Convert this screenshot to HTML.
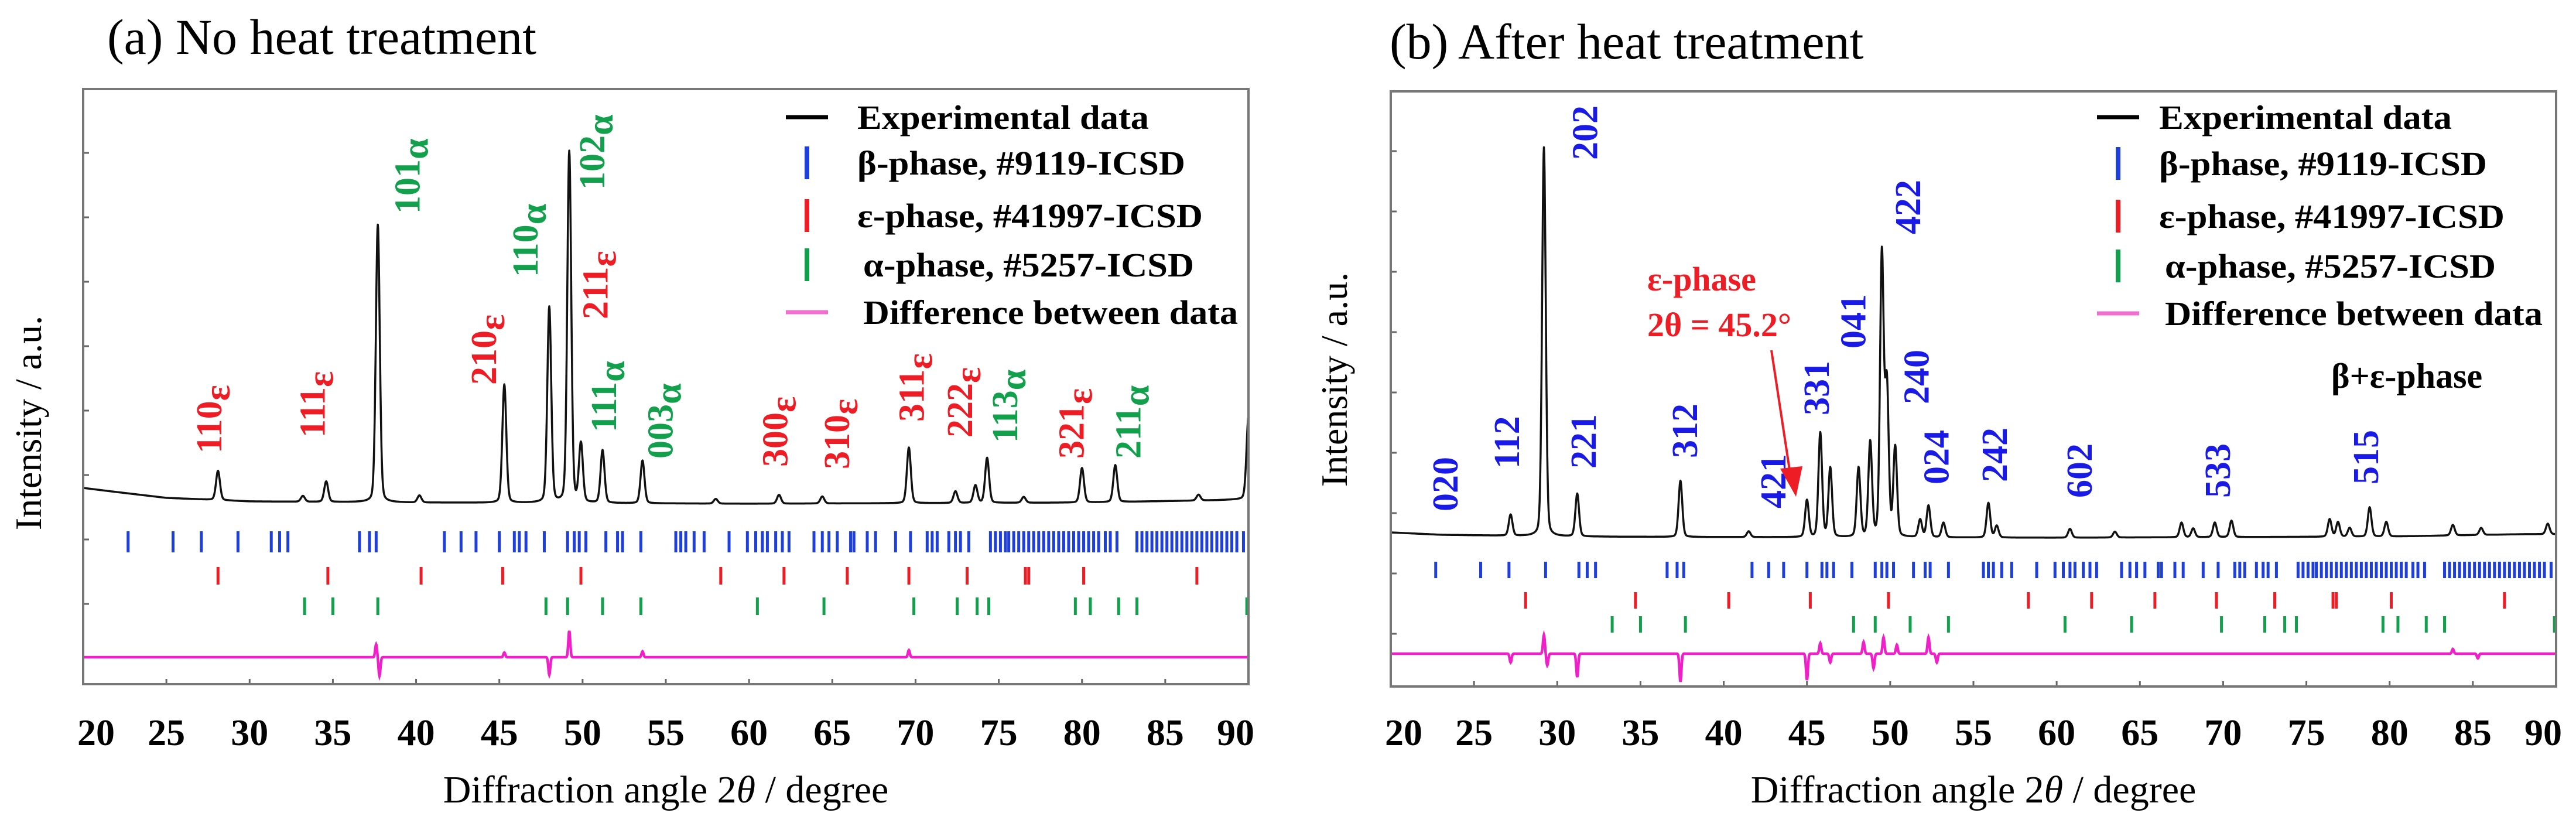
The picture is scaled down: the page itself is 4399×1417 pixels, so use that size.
<!DOCTYPE html>
<html><head><meta charset="utf-8"><style>
html,body{margin:0;padding:0;background:#fff}
svg{display:block}
text{font-family:"Liberation Serif",serif}
</style></head><body>
<svg id="chart" width="4399" height="1417" viewBox="0 0 4399 1417" xmlns="http://www.w3.org/2000/svg">
<text x="183" y="92" font-size="86">(a) No heat treatment</text>
<text x="2373" y="100" font-size="86">(b) After heat treatment</text>
</svg>
<script>
// ---------- data ----------
const xTicks = [20,25,30,35,40,45,50,55,60,65,70,75,80,85,90];
// background (deg, intensity)
const bgA = [[20,27],[22,20],[25,10],[30,4],[40,2],[60,0],[80,2],[88,6],[90,8]];
const bgB = [[20,9],[23,5],[30,2],[40,1],[60,0],[80,2],[88,6],[90,6]];
// peaks: position (deg), height
const peaksAPos = [28.1,33.2,34.6,37.7,40.2,45.3,48.0,49.2,49.9,51.2,53.6,58.0,61.8,64.4,69.6,72.4,73.6,74.3,76.5,80.0,82.0,87.0,90.0];
const peaksAHgt = [50,10,35,474,12,202,334,600,100,90,73,8,15,12,95,20,30,77,10,59,63,10,140];
const peaksBPos = [27.2,29.2,31.2,37.4,41.5,45.0,45.8,46.4,48.1,48.8,49.5,49.8,50.3,51.8,52.3,53.2,55.9,56.4,60.8,63.5,67.5,68.2,69.5,70.5,76.4,76.9,77.6,78.8,79.8,83.8,85.5,89.5];
const peaksBHgt = [36,664,73,96,10,63,178,118,118,161,481,255,152,30,54,25,59,20,15,10,25,15,25,28,30,25,15,50,25,18,12,18];
// difference curve features
const diffAPos = [37.6,37.8,48.0,49.2,53.6,69.6,45.3];
const diffAAmp = [22,-32,-30,45,10,12,8];
const diffBPos = [27.2,29.2,29.4,31.2,37.4,45.0,45.8,46.4,48.4,49.0,49.6,50.4,52.3,52.8,83.8,85.3];
const diffBAmp = [-15,32,-20,-40,-48,-45,18,-15,20,-25,28,15,28,-15,8,-8];
// reference reflections (deg)
const betaTicks = [22.7,25.4,27.1,29.3,31.3,31.8,32.3,36.6,37.2,37.6,41.7,42.7,43.6,45.0,45.9,46.2,46.6,47.7,49.1,49.5,49.8,50.2,51.4,52.1,52.4,53.5,55.6,55.9,56.2,56.7,57.3,58.8,59.9,60.4,60.8,61.1,61.6,62.0,62.4,63.9,64.4,64.8,65.3,66.1,66.3,67.1,67.6,68.8,69.7,70.7,71.0,71.3,72.0,72.4,72.7,73.2,74.5,74.8,75.1,75.4,75.6,75.9,76.2,76.5,76.8,77.1,77.4,77.7,78.0,78.3,78.6,78.9,79.2,79.5,79.8,80.1,80.4,80.7,81.0,81.4,81.7,82.1,83.3,83.6,83.9,84.2,84.5,84.8,85.1,85.4,85.7,86.0,86.3,86.6,86.9,87.2,87.5,87.8,88.1,88.4,88.7,89.0,89.3,89.7];
const epsTicks = [28.1,34.7,40.3,45.2,49.9,58.3,62.1,65.9,69.6,73.1,76.6,76.8,80.1,86.9];
const alphaTicks = [33.3,35.0,37.7,47.8,49.1,51.2,53.5,60.5,64.5,69.9,72.5,73.7,74.4,79.6,80.5,82.2,83.3,89.9];
// peak labels
const labelsAText = ["110","111","101","210","110","102","211","111","003","300","310","311","222","113","321","211"];
const labelsASub  = ["ε","ε","α","ε","α","α","ε","α","α","ε","ε","ε","ε","α","ε","α"];
const labelsAPos  = [27.6,33.8,39.5,44.1,46.6,50.6,50.8,51.3,54.7,61.6,65.3,69.8,72.7,75.4,79.4,82.8];
const labelsAH    = [86,113,495,203,387,536,315,122,77,63,59,140,113,104,77,77];
const labelsBText = ["020","112","202","221","312","421","331","041","422","240","024","242","602","533","515"];
const labelsBPos  = [23.3,27.0,31.7,31.6,37.7,43.0,45.6,47.8,51.1,51.6,52.8,56.3,61.4,69.7,78.6];
const labelsBH    = [45,118,645,118,136,50,209,323,518,228,91,95,68,68,91];

const C = {beta:"#1f3fdc", eps:"#ee1c24", alpha:"#12a04c", diff:"#f020c8", red:"#ee1c24", green:"#12a04c", blue:"#1a1ae6"};
const svg = document.getElementById('chart');
const NS = "http://www.w3.org/2000/svg";
function mk(tag, attrs){ const e=document.createElementNS(NS,tag); for(const k in attrs) e.setAttribute(k,attrs[k]); return e; }

function interp(arr,x){ for(let i=0;i<arr.length-1;i++){ if(x>=arr[i][0]&&x<=arr[i+1][0]){ const t=(x-arr[i][0])/(arr[i+1][0]-arr[i][0]); return arr[i][1]+t*(arr[i+1][1]-arr[i][1]); } } return arr[arr.length-1][1]; }
function prof(x,p,w){ const d=(x-p)/w; return 0.8*Math.exp(-0.693*d*d)+0.2/(1+d*d); }

function drawPanel(P){
  const xs = d => P.left + (d-20)*(P.right-P.left)/70;
  const ys = v => P.base - v;
  const g = mk('g',{});
  
  
  svg.appendChild(g);
  // y ticks
  for(let i=0;i<P.yTickN;i++){
    const yy=P.yTick0+i*P.yTickStep;
    const t=mk('line',{x1:P.left,x2:P.left+10,y1:yy,y2:yy,stroke:'#666','stroke-width':3});
    
    
    g.appendChild(t);
  }
  // x ticks & labels
  xTicks.forEach((d,i)=>{
    const t=mk('line',{x1:xs(d),x2:xs(d),y1:P.bottom,y2:P.bottom-9,stroke:'#666','stroke-width':3});
    
    
    g.appendChild(t);
    let lx=xs(d); if(i===0) lx+=22; if(i===xTicks.length-1) lx-=22;
    const l=mk('text',{x:lx,y:1272,'font-size':64,'font-weight':'bold','text-anchor':'middle'});
    l.textContent=d;
    
    
    g.appendChild(l);
  });
  // reference ticks
  const rows=[[betaTicks,C.beta,P.betaY,P.betaH,'beta'],[epsTicks,C.eps,P.epsY,P.epsH,'epsilon'],[alphaTicks,C.alpha,P.alphaY,P.alphaH,'alpha']];
  rows.forEach(r=>{
    r[0].forEach(d=>{
      const t=mk('line',{x1:xs(d),x2:xs(d),y1:r[2]-r[3]/2,y2:r[2]+r[3]/2,stroke:r[1],'stroke-width':5});
      
      
      g.appendChild(t);
    });
  });
  // experimental curve
  let dpath='', dd='';
  for(let x=20;x<=90.0001;x+=0.02){
    let v=interp(P.bg,x);
    P.pp.forEach((p,i)=>{ v+=P.ph[i]*prof(x,p,P.w); });
    dpath+=(dpath?'L':'M')+xs(x).toFixed(1)+' '+ys(v).toFixed(1);
    let dv=0;
    P.dp.forEach((p,i)=>{ const q=(x-p)/0.08; dv+=P.da[i]*Math.exp(-q*q); });
    dd+=(dd?'L':'M')+xs(x).toFixed(1)+' '+(P.diffY-dv).toFixed(1);
  }
  const cur=mk('path',{d:dpath,fill:'none',stroke:'#111','stroke-width':3.5,'stroke-linejoin':'round'});
  
  
  g.appendChild(cur);
  const dif=mk('path',{d:dd,fill:'none',stroke:C.diff,'stroke-width':4.5});
  
  
  g.appendChild(dif);
  // frame
  const fr=mk('rect',{x:P.left,y:P.top,width:P.right-P.left,height:P.bottom-P.top,fill:'none',stroke:'#777','stroke-width':4});
  
  
  g.appendChild(fr);
  // peak labels
  P.lt.forEach((txt,i)=>{
    const x=xs(P.lp[i])+20, y=ys(P.lh[i]);
    const t=mk('text',{x:x,y:y,'font-size':62,'font-weight':'bold',fill:P.lc(i),transform:'rotate(-90 '+x+' '+y+')'});
    t.textContent=txt;
    if(P.ls){ const s=mk('tspan',{dy:14,'font-size':64}); s.textContent=P.ls[i]; t.appendChild(s); }
    
    
    g.appendChild(t);
  });
  // axis titles
  const yt=mk('text',{x:P.yTitleX,y:P.yTitleY,'font-size':64,'text-anchor':'middle',transform:'rotate(-90 '+P.yTitleX+' '+P.yTitleY+')'});
  yt.textContent='Intensity / a.u.';
  
  
  g.appendChild(yt);
  const xt=mk('text',{x:(P.left+P.right)/2,y:1370,'font-size':66,'text-anchor':'middle'});
  xt.innerHTML='Diffraction angle 2<tspan font-style="italic">θ</tspan> / degree';
  
  
  g.appendChild(xt);
  // legend
  const lg=mk('g',{});
  
  
  g.appendChild(lg);
  const items=[['Experimental data','#000','h'],['β-phase, #9119-ICSD',C.beta,'v'],['ε-phase, #41997-ICSD',C.eps,'v'],['α-phase, #5257-ICSD',C.alpha,'v'],['Difference between data','#f070d0','h']];
  items.forEach((it,i)=>{
    const yy=P.legY[i];
    const sym = it[2]==='h' ? mk('line',{x1:P.legSym-36,x2:P.legSym+36,y1:yy,y2:yy,stroke:it[1],'stroke-width':7})
                            : mk('line',{x1:P.legSym,x2:P.legSym,y1:yy-28,y2:yy+28,stroke:it[1],'stroke-width':8});
    
    
    lg.appendChild(sym);
    const tx=mk('text',{x:P.legX+(i===3||i===4?10:0),y:yy+20,'font-size':58,'font-weight':'bold',textLength:P.legW[i],lengthAdjust:'spacingAndGlyphs'});
    tx.textContent=it[0];
    
    
    lg.appendChild(tx);
  });
}

drawPanel({name:'panel-a',left:142,right:2132,top:152,bottom:1168,base:860,bg:bgA,pp:peaksAPos,ph:peaksAHgt,w:0.14,
  dp:diffAPos,da:diffAAmp,diffY:1122,betaY:925,betaH:36,epsY:983,epsH:30,alphaY:1035,alphaH:30,
  yTick0:261,yTickStep:110,yTickN:8,lt:labelsAText,ls:labelsASub,lp:labelsAPos,lh:labelsAH,
  lc:i=>labelsASub[i]==='ε'?C.red:C.green,yTitleX:70,yTitleY:722,
  legSym:1378,legX:1464,legY:[200,278,368,452,533],legW:[498,560,590,565,640]});
drawPanel({name:'panel-b',left:2375,right:4365,top:156,bottom:1172,base:918,bg:bgB,pp:peaksBPos,ph:peaksBHgt,w:0.13,
  dp:diffBPos,da:diffBAmp,diffY:1116,betaY:973,betaH:28,epsY:1025,epsH:28,alphaY:1066,alphaH:28,
  yTick0:258,yTickStep:103,yTickN:9,lt:labelsBText,ls:null,lp:labelsBPos,lh:labelsBH,
  lc:i=>C.blue,yTitleX:2300,yTitleY:648,
  legSym:3617,legX:3687,legY:[200,279,369,454,535],legW:[500,560,590,565,645]});

// panel b annotations
const ann=mk('g',{});


svg.appendChild(ann);
const a1=mk('text',{x:2813,y:496,'font-size':58,'font-weight':'bold',fill:C.red}); a1.textContent='ε-phase';


ann.appendChild(a1);
const a2=mk('text',{x:2813,y:574,'font-size':58,'font-weight':'bold',fill:C.red}); a2.textContent='2θ = 45.2°';


ann.appendChild(a2);
const ar=mk('line',{x1:3025,y1:598,x2:3058,y2:815,stroke:C.red,'stroke-width':4});


ann.appendChild(ar);
const ah=mk('polygon',{points:'3067,848 3040,800 3078,796',fill:C.red});


ann.appendChild(ah);
const ph=mk('text',{x:3981,y:662,'font-size':60,'font-weight':'bold'}); ph.textContent='β+ε-phase';


svg.appendChild(ph);
</script>
</body></html>
